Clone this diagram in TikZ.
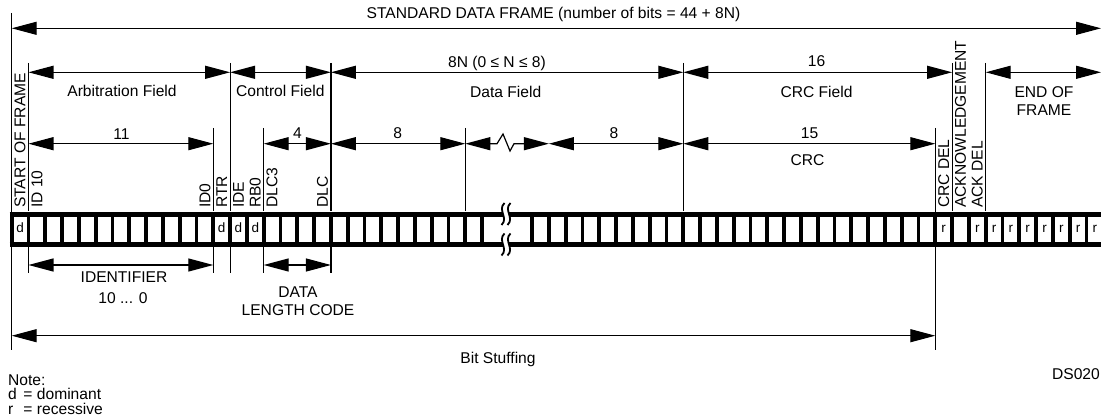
\documentclass[tikz,border=0pt]{standalone}
\usepackage{fontspec}
\setmainfont{Liberation Sans}
\usetikzlibrary{arrows.meta}

\begin{document}
\begin{tikzpicture}[
  x=1pt, y=-1pt,
  font=\fontsize{15.6}{18}\selectfont,
  >={Triangle[length=25pt,width=13pt]},
  dim/.style={<->,line width=1.2pt},
  tick/.style={line width=1.2pt},
  rail/.style={line width=5pt},
  bitline/.style={line width=3.8pt},
  wave/.style={line width=1.8pt},
  lab/.style={inner sep=0pt,anchor=base},
  vlab/.style={inner sep=0pt,anchor=west,rotate=90},
  bitval/.style={inner sep=0pt,anchor=base,font=\fontsize{13.5}{15}\selectfont}
]
  \useasboundingbox (0,0) rectangle (1101,417);

  \foreach \x/\ya/\yb in {11.7/13/350, 28.5/63/211, 28.5/247/273, 213.3/128/211, 213.3/247/273,
      230.1/63/211, 230.1/247/273, 263.7/128/211, 263.7/247/273, 330.9/63/211, 330.9/247/273,
      465.3/128/211, 683.3/63/211, 935.3/128/350, 952.1/63/211, 985.7/63/211}
    \draw[tick] (\x,\ya) -- (\x,\yb);

  \draw[rail] (9.7,214) -- (503,214);
  \draw[rail] (509,214) -- (1101,214);
  \draw[rail] (9.7,244.5) -- (503,244.5);
  \draw[rail] (509,244.5) -- (1101,244.5);
  \foreach \k in {0,...,28}
    \draw[bitline] ({11.7+16.8*\k},214) -- ({11.7+16.8*\k},244.5);
  \foreach \j in {-9,...,24}
    \draw[bitline] ({683.3+16.8*\j},214) -- ({683.3+16.8*\j},244.5);
  \foreach \yc in {214,244.5}
    \foreach \xc in {503,509}
      \draw[wave] (\xc+1.5,\yc-11) .. controls (\xc-6,\yc-4) and (\xc+6,\yc+4) .. (\xc-1.5,\yc+11);

  \coordinate (fl) at (11.7,28.3);
  \coordinate (fr) at (1101,28.3);
  \draw[dim] (fl) -- (fr);

  \foreach \n/\x in {0/28.5,1/230.1,2/330.9,3/683.3,4/952.1,5/985.7,6/1101}
    \coordinate (a\n) at (\x,72.3);
  \draw[dim] (a0) -- (a1);
  \draw[dim] (a1) -- (a2);
  \draw[dim] (a2) -- (a3);
  \draw[dim] (a3) -- (a4);
  \draw[dim] (a5) -- (a6);

  \foreach \n/\x in {0/28.5,1/213.3,2/263.7,3/330.9,4/465.3,5/548.9,6/683.3,7/935.3}
    \coordinate (b\n) at (\x,143.7);
  \draw[dim] (b0) -- (b1);
  \draw[dim] (b2) -- (b3);
  \draw[dim] (b3) -- (b4);
  \draw[dim] (b4) -- ++(31.7,0) -- ++(6,-9.7) -- ++(7,17) -- ++(4,-7.3) -- (b5);
  \draw[dim] (b5) -- (b6);
  \draw[dim] (b6) -- (b7);

  \coordinate (id0) at (28.5,265);
  \coordinate (id1) at (213.3,265);
  \coordinate (dl0) at (263.7,265);
  \coordinate (dl1) at (330.9,265);
  \coordinate (bs0) at (11.7,335.7);
  \coordinate (bs1) at (935.3,335.7);
  \draw[dim] (id0) -- (id1);
  \draw[dim] (dl0) -- (dl1);
  \draw[dim] (bs0) -- (bs1);

  \node[vlab] (sof) at (20.1,208) {START OF FRAME};
  \node[vlab] (id10) at (36.9,208) {ID 10};
  \node[vlab] (idz) at (204.9,208) {ID0};
  \node[vlab] (rtr) at (221.7,208) {RTR};
  \node[vlab] (ide) at (238.5,208) {IDE};
  \node[vlab] (rbz) at (255.3,208) {RB0};
  \node[vlab] (dlc3) at (272.1,208) {DLC3};
  \node[vlab] (dlc) at (322.5,208) {DLC};
  \node[vlab] (crcdel) at (943.7,208) {CRC DEL};
  \node[vlab] (ack) at (960.5,208) {ACKNOWLEDGEMENT};
  \node[vlab] (ackdel) at (977.3,208) {ACK DEL};

  \foreach \x/\t [count=\i] in {20.1/d,221.7/d,238.5/d,255.3/d,943.7/r,977.3/r,994.1/r,
      1010.9/r,1027.7/r,1044.5/r,1061.3/r,1078.1/r,1094.9/r}
    \node[bitval] (v\i) at (\x,232.5) {\t};

  \node[lab] (title) at (553.5,18.5) {STANDARD DATA FRAME (number of bits = 44 + 8N)};
  \node[lab] (arbl) at (122,96.7) {Arbitration Field};
  \node[lab] (ctll) at (280.3,96.7) {Control Field};
  \node[lab] (datan) at (497,67.5) {8N (0 ≤ N ≤ 8)};
  \node[lab] (datal) at (505.7,97.5) {Data Field};
  \node[lab] (crcn) at (816.5,67) {16};
  \node[lab] (crcl) at (816.5,97.3) {CRC Field};
  \node[lab] (eofa) at (1044,97.5) {END OF};
  \node[lab] (eofb) at (1044,116) {FRAME};
  \node[lab] (idn) at (121.5,140) {11};
  \node[lab] (dlcn) at (297.5,138.3) {4};
  \node[lab] (dfa) at (397.7,138.3) {8};
  \node[lab] (dfb) at (614,138.3) {8};
  \node[lab] (crcb) at (809.5,138.3) {15};
  \node[lab] (crcc) at (807.5,166) {CRC};
  \node[lab] (idl) at (124,282) {IDENTIFIER};
  \node[lab] (idr) at (123,303) {10 ... 0};
  \node[lab] (dla) at (298,297) {DATA};
  \node[lab] (dlb) at (298,315.7) {LENGTH CODE};
  \node[lab] (bsl) at (498,363.5) {Bit Stuffing};
  \node[lab,anchor=base west] (note) at (8,385) {Note:};
  \node[lab,anchor=base west] (dom) at (8,399.5) {\makebox[15.3pt][l]{d}= dominant};
  \node[lab,anchor=base west] (rec) at (8,414) {\makebox[15.3pt][l]{r}= recessive};
  \node[lab,anchor=base east] (dsref) at (1100,379) {DS020};
\end{tikzpicture}
\end{document}
